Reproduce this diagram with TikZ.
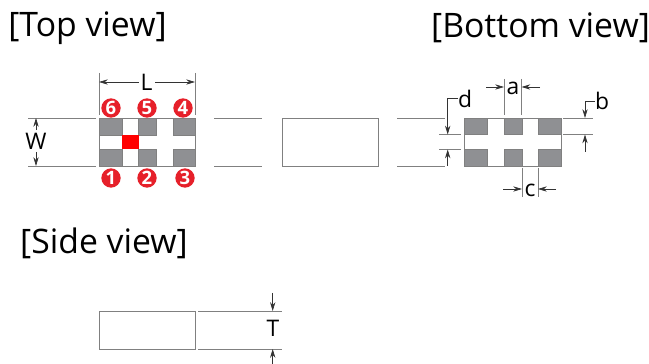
\documentclass[tikz,border=0pt]{standalone}
\usepackage{fontspec}
\setmainfont{Open Sans}
\usetikzlibrary{arrows.meta}
\definecolor{padgray}{HTML}{8F9093}
\definecolor{linegray}{HTML}{808080}
\definecolor{pinred}{HTML}{E6202A}
\tikzset{
    pad/.style={fill=padgray, draw=linegray, line width=0.4pt},
    outline/.style={draw=linegray, line width=0.4pt},
    extline/.style={draw=linegray, line width=0.35pt},
    dimline/.style={draw=black!80, line width=0.4pt, >={Stealth[length=5pt,width=3pt]}},
    pin/.style={circle, fill=pinred, text=white, inner sep=0pt, minimum size=11pt, font=\fontsize{10.5}{10.5}\selectfont\bfseries},
    title/.style={inner sep=0pt, font=\fontsize{19.2}{19.2}\selectfont},
    dimlabel/.style={inner sep=0pt, font=\fontsize{13}{13}\selectfont}
}
\begin{document}
\begin{tikzpicture}[x=0.02cm,y=-0.02cm]
\useasboundingbox (0,0) rectangle (649,364);

\node[title] (topview) at (87.5,28) {[Top view]};
\node[title] (bottomview) at (540.5,28) {[Bottom view]};
\node[title] (sideview) at (104,243) {[Side view]};

% top view
\draw[outline] (99,118) rectangle (195,166);
\foreach \xa/\xb in {99/122, 138.5/156, 173/195} {
    \draw[pad] (\xa,118) rectangle (\xb,135);
    \draw[pad] (\xa,149) rectangle (\xb,166);
}
\fill[red] (121.5,135) rectangle (138.5,149);

\foreach \n/\px/\py in {6/111/108, 5/147/108, 4/183/108, 1/111/178, 2/147/178, 3/185/178}
    \node[pin] (pin\n) at (\px,\py) {\n};

\foreach \yy in {118,166} {
    \draw[extline] (28,\yy) -- (96,\yy);
    \draw[extline] (214,\yy) -- (262,\yy);
    \draw[extline] (397,\yy) -- (445,\yy);
}
\draw[extline] (99,73) -- (99,115);
\draw[extline] (195,73) -- (195,115);

\node[dimlabel] (lenL) at (146.5,82) {L};
\draw[dimline,<-] (99,82) -- (139,82);
\draw[dimline,->] (155,82) -- (195,82);

\node[dimlabel] (lenW) at (36,141) {W};
\draw[dimline,<-] (36,118) -- (36,130);
\draw[dimline,->] (36,152) -- (36,166);

% middle
\draw[outline] (282,118) rectangle (378,166);

% bottom view
\draw[outline] (464,118) rectangle (561,166);
\foreach \xa/\xb in {464/487, 504/522, 538/561} {
    \draw[pad] (\xa,118) rectangle (\xb,134.5);
    \draw[pad] (\xa,149.5) rectangle (\xb,166);
}

\draw[extline] (504,79) -- (504,115);
\draw[extline] (521.5,79) -- (521.5,115);
\node[dimlabel] (lena) at (513,88) {a};
\draw[dimline,->] (486,87) -- (504,87);
\draw[dimline,->] (540,87) -- (521.5,87);

\draw[extline] (522,168) -- (522,197);
\draw[extline] (538,168) -- (538,197);
\node[dimlabel] (lenc) at (530,190) {c};
\draw[dimline,->] (503,189) -- (522,189);
\draw[dimline,->] (556,189) -- (538,189);

\draw[extline] (439,134.5) -- (461,134.5);
\draw[extline] (439,149.5) -- (461,149.5);
\node[dimlabel] (lend) at (465,99) {d};
\draw[dimline,->] (458,98) -- (447.7,98) -- (447.7,134.5);
\draw[dimline,->] (447.7,166) -- (447.7,149.5);

\draw[extline] (563,118) -- (593,118);
\draw[extline] (563,134.5) -- (593,134.5);
\node[dimlabel] (lenb) at (602,101) {b};
\draw[dimline,->] (595,101) -- (585,101) -- (585,118);
\draw[dimline,->] (585,152) -- (585,134.5);

% side view
\draw[outline] (99,311) rectangle (195.5,349);
\draw[extline] (198,311) -- (282,311);
\draw[extline] (198,349) -- (282,349);
\node[dimlabel] (lenT) at (273,328) {T};
\draw[dimline,->] (272.7,293) -- (272.7,311);
\draw[dimline,->] (272.7,364) -- (272.7,349);
\end{tikzpicture}
\end{document}
